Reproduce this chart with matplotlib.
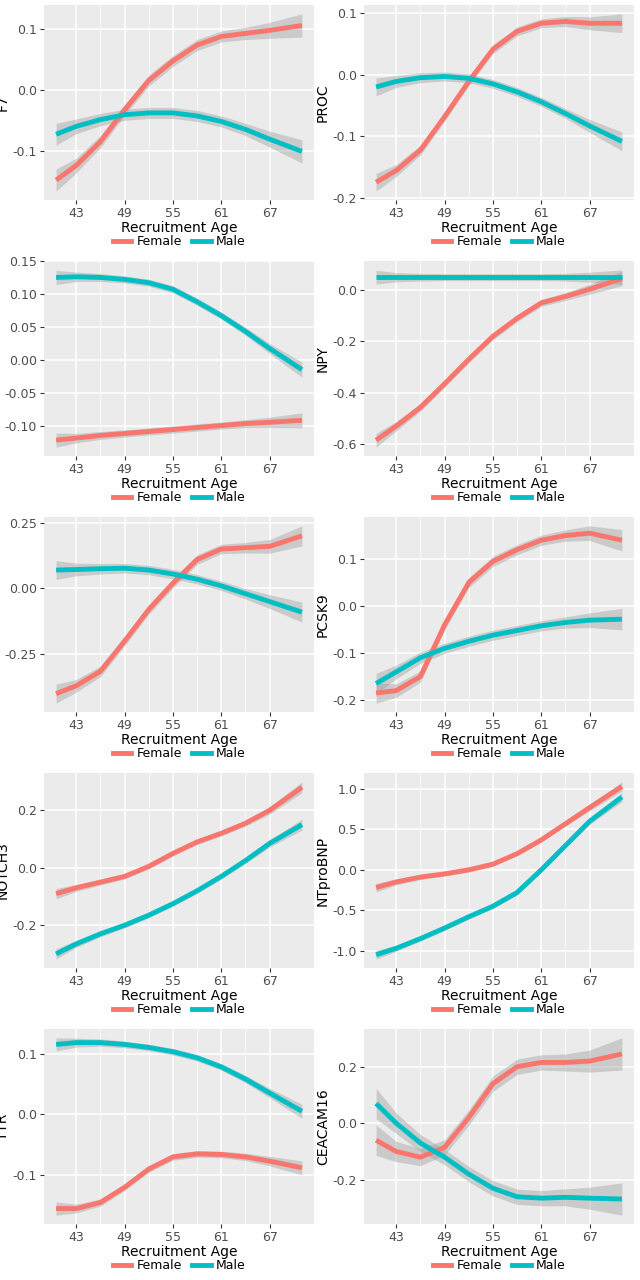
import numpy as np
import matplotlib.pyplot as plt
from matplotlib.lines import Line2D

ages = [40.5, 43, 46, 49, 52, 55, 58, 61, 64, 67, 71]

panels = ['F7', 'PROC', 'PLA2G7', 'NPY', 'LDLR', 'PCSK9', 'NOTCH3', 'NTproBNP', 'TTR', 'CEACAM16']

female = {
    'F7': [-0.147, -0.123, -0.084, -0.032, 0.016, 0.048, 0.074, 0.088, 0.093, 0.098, 0.106],
    'PROC': [-0.174, -0.155, -0.122, -0.068, -0.011, 0.041, 0.07, 0.083, 0.086, 0.083, 0.083],
    'PLA2G7': [-0.122, -0.119, -0.115, -0.112, -0.109, -0.106, -0.103, -0.1, -0.097, -0.095, -0.092],
    'NPY': [-0.585, -0.53, -0.457, -0.365, -0.27, -0.18, -0.11, -0.05, -0.025, 0.003, 0.045],
    'LDLR': [-0.40, -0.37, -0.315, -0.2, -0.08, 0.02, 0.11, 0.15, 0.155, 0.16, 0.2],
    'PCSK9': [-0.185, -0.18, -0.15, -0.04, 0.05, 0.095, 0.12, 0.14, 0.15, 0.155, 0.14],
    'NOTCH3': [-0.09, -0.07, -0.05, -0.03, 0.005, 0.05, 0.09, 0.12, 0.155, 0.2, 0.28],
    'NTproBNP': [-0.22, -0.15, -0.09, -0.05, 0.0, 0.07, 0.2, 0.37, 0.57, 0.77, 1.03],
    'TTR': [-0.155, -0.155, -0.145, -0.12, -0.09, -0.07, -0.065, -0.066, -0.07, -0.077, -0.088],
    'CEACAM16': [-0.06, -0.1, -0.12, -0.085, 0.02, 0.14, 0.2, 0.215, 0.215, 0.22, 0.245],
}
male = {
    'F7': [-0.072, -0.059, -0.048, -0.04, -0.037, -0.037, -0.042, -0.051, -0.064, -0.08, -0.1],
    'PROC': [-0.02, -0.011, -0.005, -0.003, -0.006, -0.015, -0.028, -0.044, -0.063, -0.083, -0.108],
    'PLA2G7': [0.125, 0.126, 0.125, 0.122, 0.117, 0.107, 0.088, 0.067, 0.043, 0.017, -0.015],
    'NPY': [0.05] * 11,
    'LDLR': [0.07, 0.072, 0.075, 0.077, 0.07, 0.055, 0.035, 0.01, -0.02, -0.05, -0.09],
    'PCSK9': [-0.165, -0.14, -0.11, -0.09, -0.075, -0.062, -0.052, -0.042, -0.035, -0.03, -0.028],
    'NOTCH3': [-0.3, -0.265, -0.23, -0.2, -0.165, -0.125, -0.08, -0.03, 0.025, 0.085, 0.15],
    'NTproBNP': [-1.05, -0.97, -0.85, -0.72, -0.58, -0.45, -0.28, 0.0, 0.3, 0.6, 0.9],
    'TTR': [0.115, 0.118, 0.118, 0.115, 0.11, 0.103, 0.093, 0.078, 0.058, 0.035, 0.005],
    'CEACAM16': [0.07, 0.0, -0.07, -0.12, -0.18, -0.23, -0.26, -0.265, -0.262, -0.265, -0.268],
}
yticks = {
    'F7': [-0.1, 0.0, 0.1],
    'PROC': [-0.2, -0.1, 0.0, 0.1],
    'PLA2G7': [-0.10, -0.05, 0.00, 0.05, 0.10, 0.15],
    'NPY': [-0.6, -0.4, -0.2, 0.0],
    'LDLR': [-0.25, 0.00, 0.25],
    'PCSK9': [-0.2, -0.1, 0.0, 0.1],
    'NOTCH3': [-0.2, 0.0, 0.2],
    'NTproBNP': [-1.0, -0.5, 0.0, 0.5, 1.0],
    'TTR': [-0.1, 0.0, 0.1],
    'CEACAM16': [-0.2, 0.0, 0.2],
}
tick_fmt = {'PLA2G7': '{:.2f}', 'LDLR': '{:.2f}'}
# confidence band half width (in data units) and its shape along age
band_scale = {'F7': 0.01, 'PROC': 0.008, 'PLA2G7': 0.006, 'NPY': 0.015, 'LDLR': 0.02,
              'PCSK9': 0.012, 'NOTCH3': 0.01, 'NTproBNP': 0.03, 'TTR': 0.006, 'CEACAM16': 0.03}
band_shape = [1.8, 1.2, 1.0, 0.9, 0.9, 0.9, 0.9, 0.9, 1.0, 1.3, 1.9]

RED = '#F8766D'
TEAL = '#00BFC4'

fig = plt.figure(figsize=(6.4, 12.8), dpi=100)
W, H = 640, 1280
for i, name in enumerate(panels):
    row, col = divmod(i, 2)
    left = 44 if col == 0 else 364
    top = row * 256 + 5
    ax = fig.add_axes([left / W, 1 - (top + 195) / H, 270 / W, 195 / H])
    ax.set_facecolor('#EBEBEB')
    x = np.array(ages)
    bw = band_scale[name] * np.array(band_shape)
    for d, c in ((female[name], RED), (male[name], TEAL)):
        d = np.array(d)
        ax.fill_between(x, d - bw, d + bw, color='#999999', alpha=0.4, lw=0)
        ax.plot(x, d, color=c, lw=3.5, solid_capstyle='butt')
    ax.set_xlim(39, 72.5)
    ax.set_xticks([43, 49, 55, 61, 67])
    ax.set_xticks([46, 52, 58, 64], minor=True)
    yt = yticks[name]
    ax.set_yticks(yt)
    fmt = tick_fmt.get(name, '{:.1f}')
    ax.set_yticklabels([fmt.format(v) for v in yt])
    ax.grid(True, which='major', color='white', lw=1.1)
    ax.grid(True, which='minor', color='white', lw=0.5)
    ax.set_axisbelow(True)
    for s in ax.spines.values():
        s.set_visible(False)
    ax.tick_params(which='both', length=3, pad=2, color='#333333', labelsize=9, labelcolor='#4D4D4D')
    ax.tick_params(which='minor', length=0)
    ax.set_xlabel('Recruitment Age', fontsize=10, labelpad=1)
    ax.set_ylabel(name, fontsize=10, labelpad=2)
    handles = [Line2D([], [], color=RED, lw=3.5), Line2D([], [], color=TEAL, lw=3.5)]
    ax.legend(handles, ['Female', 'Male'], loc='center', bbox_to_anchor=(0.5, -0.215),
              ncol=2, frameon=False, fontsize=9, handlelength=1.5, columnspacing=0.8,
              handletextpad=0.4)

fig.savefig('out.png', dpi=100)
